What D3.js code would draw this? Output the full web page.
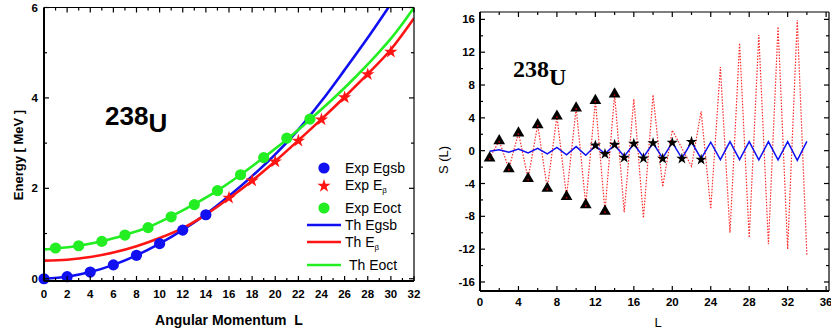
<!DOCTYPE html>
<html>
<head>
<meta charset="utf-8">
<script src="https://cdn.jsdelivr.net/npm/d3@7/dist/d3.min.js"></script>
<style>
  html, body { margin: 0; padding: 0; background: #fff; }
  svg { display: block; font-family: Arial, "Liberation Sans", sans-serif; }
</style>
</head>
<body>
<svg id="chart" width="831" height="335"></svg>
<script>
// ---- left panel: energies (MeV) vs L ----
const gsbL   = [0, 2, 4, 6, 8, 10, 12, 14];
const gsbE   = [0, 0.045, 0.148, 0.307, 0.518, 0.776, 1.076, 1.415];
const betaL  = [16, 18, 20, 22, 24, 26, 28, 30];
const betaE  = [1.79, 2.17, 2.59, 3.05, 3.52, 4.01, 4.52, 5.02];
const octL   = [1, 3, 5, 7, 9, 11, 13, 15, 17, 19, 21, 23];
const octE   = [0.68, 0.73, 0.826, 0.966, 1.13, 1.37, 1.64, 1.95, 2.30, 2.68, 3.11, 3.53];

const thGsbL  = [0, 2, 4, 6, 8, 10, 12, 14, 16, 18, 20, 22, 24, 26, 28, 30];
const thGsbE  = [0, 0.045, 0.148, 0.307, 0.518, 0.776, 1.08, 1.43, 1.83, 2.27, 2.75, 3.30, 3.93, 4.62, 5.33, 6.08];
const thBetaL = [0, 2, 4, 6, 8, 10, 12, 14, 16, 18, 20, 22, 24, 26, 28, 30, 32];
const thBetaE = [0.40, 0.42, 0.48, 0.58, 0.72, 0.90, 1.12, 1.42, 1.78, 2.17, 2.60, 3.06, 3.53, 4.02, 4.53, 5.07, 5.76];
const thOctL  = [0, 1, 3, 5, 7, 9, 11, 13, 15, 17, 19, 21, 23, 25, 27, 29, 30, 31, 32];
const thOctE  = [0.65, 0.67, 0.73, 0.83, 0.97, 1.14, 1.38, 1.65, 1.95, 2.30, 2.68, 3.08, 3.52, 3.98, 4.48, 5.02, 5.31, 5.64, 6.0];

// ---- right panel: S(L) ----
const sRedL  = d3.range(1, 35);
const sRed   = [-0.9, 1.2, -2.2, 2.15, -3.4, 3.15, -4.6, 4.2, -5.6, 5.2, -6.6, 6.1, -7.4, 6.9,
                -7.5, 6.3, -8.2, 6.8, -4.4, 2.5, 0.3, -1.9, 4.8, -7.1, 10.2, -10.0, 13.1, -10.6,
                14.1, -11.4, 15.1, -12.0, 15.9, -12.8];
const triL   = d3.range(1, 15);
const triS   = [-0.9, 1.2, -2.2, 2.15, -3.4, 3.15, -4.6, 4.2, -5.6, 5.2, -6.6, 6.1, -7.4, 6.9];
const starL  = d3.range(12, 24);
const starS  = [0.65, -0.4, 0.73, -0.85, 0.85, -0.93, 0.93, -0.97, 0.97, -0.97, 1.09, -1.09];
const blueL  = d3.range(1, 35);
const blueS  = [-0.08, 0.12, -0.2, 0.2, -0.28, 0.28, -0.4, 0.4, -0.5, 0.5, -0.55, 0.6, -0.37, 0.7,
                -0.7, 0.8, -0.8, 0.93, -0.9, 1.0, -0.93, 1.05, -0.97, 1.03, -1.1, 1.1, -1.1, 1.1,
                -1.12, 1.1, -1.12, 1.1, -1.18, 1.14];

const BLUE = '#1010f0', RED = '#ff1414', GREEN = '#22ee22';
const svg = d3.select('#chart');
const zip = (xs, ys) => xs.map((x, i) => [x, ys[i]]);

// tick helper: inward ticks on all four sides
function frameTicks(g, x, y, xMaj, xMin, yMaj, yMin, lw) {
  const [x0, x1] = x.range(), [y0, y1] = y.range();
  const tk = (x1a, y1a, x2a, y2a) => g.append('line')
    .attr('x1', x1a).attr('y1', y1a).attr('x2', x2a).attr('y2', y2a)
    .attr('stroke', '#000').attr('stroke-width', 1.2);
  xMaj.forEach(v => { tk(x(v), y0, x(v), y0 - 5); tk(x(v), y1, x(v), y1 + 5); });
  xMin.forEach(v => { tk(x(v), y0, x(v), y0 - 3); tk(x(v), y1, x(v), y1 + 3); });
  yMaj.forEach(v => { tk(x0, y(v), x0 + 5, y(v)); tk(x1, y(v), x1 - 5, y(v)); });
  yMin.forEach(v => { tk(x0, y(v), x0 + 3, y(v)); tk(x1, y(v), x1 - 3, y(v)); });
  g.append('line').attr('x1', x0).attr('x2', x1).attr('y1', y1).attr('y2', y1).attr('stroke', '#000').attr('stroke-width', 1.2);
  g.append('line').attr('x1', x1).attr('x2', x1).attr('y1', y0).attr('y2', y1).attr('stroke', '#000').attr('stroke-width', 1.2);
  g.append('line').attr('x1', x0).attr('x2', x1).attr('y1', y0).attr('y2', y0).attr('stroke', '#000').attr('stroke-width', lw);
  g.append('line').attr('x1', x0).attr('x2', x0).attr('y1', y0).attr('y2', y1).attr('stroke', '#000').attr('stroke-width', lw);
}

// =================== LEFT PANEL ===================
const xL = d3.scaleLinear().domain([0, 32]).range([44, 414]);
const yL = d3.scaleLinear().domain([-0.05, 6]).range([281, 7.5]);
const gL = svg.append('g');

svg.append('clipPath').attr('id', 'clipL').append('rect')
  .attr('x', 44).attr('y', 7.5).attr('width', 370).attr('height', 273.5);

const lineL = d3.line().x(d => xL(d[0])).y(d => yL(d[1])).curve(d3.curveMonotoneX);
const curves = gL.append('g').attr('clip-path', 'url(#clipL)');
[[thGsbL, thGsbE, BLUE], [thBetaL, thBetaE, RED], [thOctL, thOctE, GREEN]].forEach(([xs, ys, c]) => {
  curves.append('path').datum(zip(xs, ys)).attr('d', lineL)
    .attr('fill', 'none').attr('stroke', c).attr('stroke-width', 2.6);
});

gL.append('g').selectAll('circle').data(zip(octL, octE)).join('circle')
  .attr('cx', d => xL(d[0])).attr('cy', d => yL(d[1])).attr('r', 5.6).attr('fill', GREEN);
gL.append('g').selectAll('circle').data(zip(gsbL, gsbE)).join('circle')
  .attr('cx', d => xL(d[0])).attr('cy', d => yL(d[1])).attr('r', 5.6).attr('fill', BLUE);
const starBig = d3.symbol().type(d3.symbolStar).size(55);
gL.append('g').selectAll('path').data(zip(betaL, betaE)).join('path')
  .attr('transform', d => `translate(${xL(d[0])},${yL(d[1])})`).attr('d', starBig).attr('fill', RED);

frameTicks(gL, xL, yL, d3.range(0, 33, 2), d3.range(1, 32, 2), [0, 2, 4, 6], [1, 3, 5], 2);

gL.append('g').selectAll('text').data(d3.range(0, 33, 2)).join('text')
  .attr('x', d => xL(d)).attr('y', 298).attr('text-anchor', 'middle')
  .attr('font-size', 11.5).attr('font-weight', 'bold').text(d => d);
gL.append('g').selectAll('text').data([0, 2, 4, 6]).join('text')
  .attr('x', 38).attr('y', d => yL(d) + 4).attr('text-anchor', 'end')
  .attr('font-size', 11.5).attr('font-weight', 'bold').text(d => d);

gL.append('text').attr('x', 229).attr('y', 325).attr('text-anchor', 'middle')
  .attr('font-size', 14).attr('font-weight', 'bold').attr('xml:space', 'preserve')
  .text('Angular Momentum  L');
gL.append('text').attr('transform', 'translate(23,155) rotate(-90)').attr('text-anchor', 'middle')
  .attr('font-size', 13).attr('font-weight', 'bold').text('Energy [ MeV ]');

const nucL = gL.append('text').attr('x', 105).attr('y', 125).attr('font-size', 26).attr('font-weight', 'bold');
nucL.append('tspan').text('238');
nucL.append('tspan').attr('dy', 7).text('U');

// legend
const leg = gL.append('g').attr('font-size', 14);
leg.append('circle').attr('cx', 324).attr('cy', 168).attr('r', 5.6).attr('fill', BLUE);
leg.append('text').attr('x', 345).attr('y', 173).text('Exp Egsb');
leg.append('path').attr('transform', 'translate(324,186)').attr('d', starBig).attr('fill', RED);
const tb = leg.append('text').attr('x', 345).attr('y', 190).text('Exp E');
tb.append('tspan').attr('font-size', 8).attr('dy', 3).text('β');
leg.append('circle').attr('cx', 324).attr('cy', 208).attr('r', 5.6).attr('fill', GREEN);
leg.append('text').attr('x', 345).attr('y', 213).text('Exp Eoct');
[[225, BLUE], [242, RED], [265, GREEN]].forEach(([yy, c]) => {
  leg.append('line').attr('x1', 307).attr('x2', 341).attr('y1', yy).attr('y2', yy)
    .attr('stroke', c).attr('stroke-width', 2.6);
});
leg.append('text').attr('x', 345).attr('y', 230).text('Th Egsb');
const tb2 = leg.append('text').attr('x', 345).attr('y', 247).text('Th E');
tb2.append('tspan').attr('font-size', 8).attr('dy', 3).text('β');
leg.append('text').attr('x', 349).attr('y', 270).text('Th Eoct');

// =================== RIGHT PANEL ===================
const xR = d3.scaleLinear().domain([0, 36.3]).range([480, 829]);
const yR = d3.scaleLinear().domain([-17.1, 16.9]).range([291, 12]);
const gR = svg.append('g');
const lineR = d3.line().x(d => xR(d[0])).y(d => yR(d[1]));

gR.append('path').datum(zip(sRedL, sRed)).attr('d', lineR)
  .attr('fill', 'none').attr('stroke', '#ff2a2a').attr('stroke-width', 1.2).attr('stroke-dasharray', '1.5,1.5');
gR.append('path').datum(zip(blueL, blueS)).attr('d', lineR)
  .attr('fill', 'none').attr('stroke', BLUE).attr('stroke-width', 1.5);

const tri = d3.symbol().type(d3.symbolTriangle).size(60);
gR.append('g').selectAll('path').data(zip(triL, triS)).join('path')
  .attr('transform', d => `translate(${xR(d[0])},${yR(d[1])})`).attr('d', tri).attr('fill', '#000');
const starSm = d3.symbol().type(d3.symbolStar).size(40);
gR.append('g').selectAll('path').data(zip(starL, starS)).join('path')
  .attr('transform', d => `translate(${xR(d[0])},${yR(d[1])})`).attr('d', starSm).attr('fill', '#000');
// red dots over the triangles, as in the original
gR.append('g').selectAll('circle').data(zip(triL, triS)).join('circle')
  .attr('cx', d => xR(d[0])).attr('cy', d => yR(d[1]) + 1).attr('r', 0.9).attr('fill', '#c00');

frameTicks(gR, xR, yR, d3.range(0, 37, 4), d3.range(2, 36, 4), d3.range(-16, 17, 4), d3.range(-14, 15, 4), 2);

gR.append('g').selectAll('text').data(d3.range(0, 37, 4)).join('text')
  .attr('x', d => xR(d)).attr('y', 306).attr('text-anchor', 'middle')
  .attr('font-size', 11.5).attr('font-weight', 'bold').text(d => d);
gR.append('g').selectAll('text').data(d3.range(-16, 17, 4)).join('text')
  .attr('x', 475).attr('y', d => yR(d) + 4).attr('text-anchor', 'end')
  .attr('font-size', 11.5).attr('font-weight', 'bold').text(d => d);

gR.append('text').attr('x', 658).attr('y', 327).attr('text-anchor', 'middle')
  .attr('font-size', 13).text('L');
gR.append('text').attr('transform', 'translate(448,160) rotate(-90)').attr('text-anchor', 'middle')
  .attr('font-size', 13).text('S (L)');

const nucR = gR.append('text').attr('x', 513).attr('y', 77)
  .attr('font-family', '"Liberation Serif", "Times New Roman", serif').attr('font-size', 24).attr('font-weight', 'bold');
nucR.append('tspan').text('238');
nucR.append('tspan').attr('dy', 8).text('U');
</script>
</body>
</html>
